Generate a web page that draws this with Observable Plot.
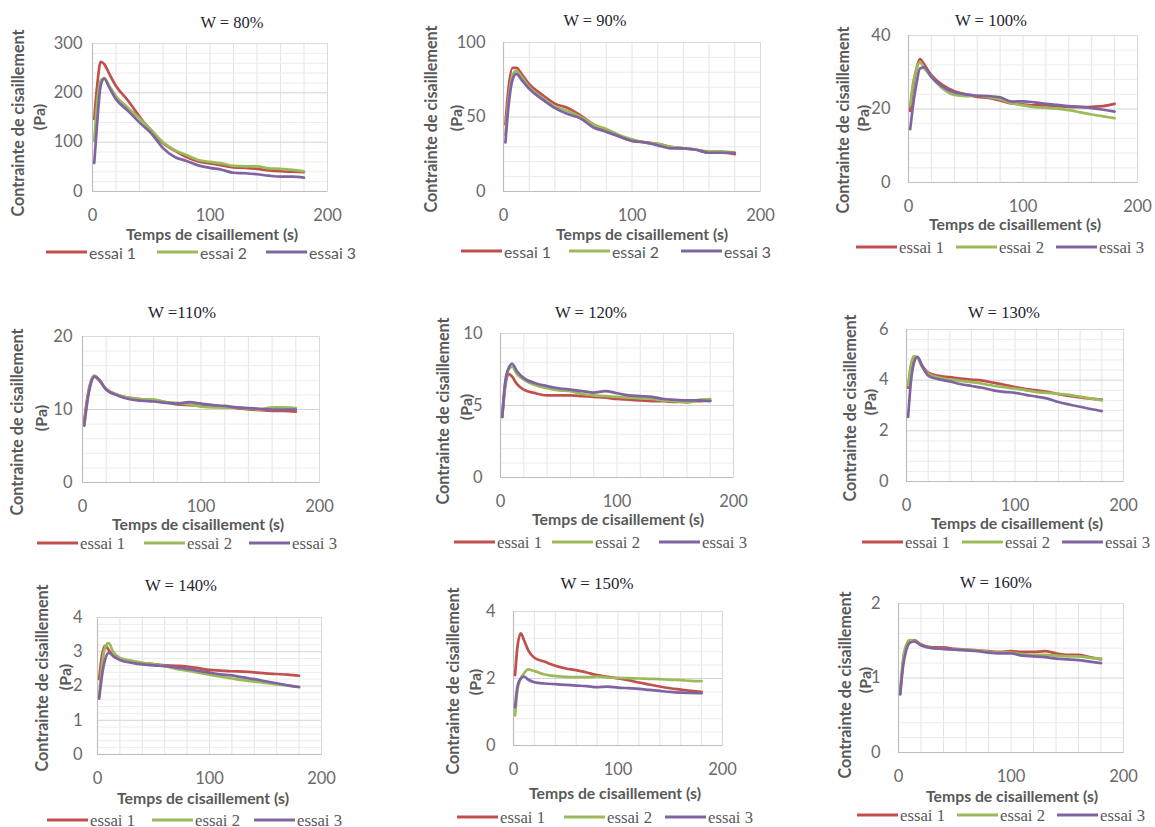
<!DOCTYPE html>
<html>
<head>
<meta charset="utf-8">
<script src="https://cdn.jsdelivr.net/npm/d3@7"></script>
<script src="https://cdn.jsdelivr.net/npm/@observablehq/plot@0.6"></script>
<style>
html, body { margin: 0; padding: 0; background: #fff; }
#wrap { position: relative; width: 1155px; height: 827px; overflow: hidden; background: #fff; }
#wrap svg { position: absolute; }
</style>
</head>
<body>
<div id="wrap"></div>
<script>
// ---------- DATA ----------
const time = [1.5, 4, 7, 10, 14, 20, 30, 40, 50, 60, 70, 80, 90, 100, 110, 120, 130, 140, 150, 160, 170, 180];
const titles = ["W = 80%", "W = 90%", "W = 100%", "W =110%", "W = 120%", "W = 130%", "W = 140%", "W = 150%", "W = 160%"];
const seriesNames = ["essai 1", "essai 2", "essai 3"];
const seriesColors = ["#C0504D", "#9BBB59", "#8064A2"];
const xTickLabels = [0, 100, 200];
const xGridStep = 20;
const yMax = [300, 100, 40, 20, 10, 6, 4, 4, 2];
const yMajorStep = [100, 50, 20, 10, 5, 2, 1, 2, 1];
const xTitle = "Temps de cisaillement (s)";
const yTitle = "Contrainte de cisaillement";
const yUnit = "(Pa)";

const w80_e1 = [147, 215, 263, 258, 240, 214, 185, 152, 122, 98, 83, 70, 61, 57, 53, 49, 48, 46, 43, 41, 40, 39];
const w80_e2 = [103, 180, 225, 230, 215, 193, 170, 148, 125, 100, 84, 74, 64, 60, 57, 52, 51, 51, 47, 46, 44, 41];
const w80_e3 = [58, 140, 215, 229, 212, 187, 164, 140, 118, 88, 70, 62, 53, 48, 44, 38, 37, 35, 32, 30, 30, 28];

const w90_e1 = [45, 70, 83, 83, 79, 72, 65, 59, 56, 51, 45, 41, 37, 34, 33, 32, 30, 29, 28, 26, 26, 25];
const w90_e2 = [38, 62, 78, 81, 77, 70, 63, 57, 54, 50, 45, 42, 38, 35, 33, 32, 30, 29, 28, 27, 27, 26];
const w90_e3 = [33, 58, 75, 79, 75, 69, 62, 56, 52, 49, 43, 40, 37, 34, 33, 31, 29, 29, 28, 26, 26, 26];

const w100_e1 = [19.5, 26, 31, 33.6, 32, 29.2, 26.5, 24.8, 24, 23.3, 23, 22.3, 21.5, 21.3, 21, 21, 20.8, 20.6, 20.5, 20.6, 20.8, 21.4];
const w100_e2 = [21, 27, 31, 32.7, 31, 28.8, 25.5, 23.8, 23.5, 23.6, 23.2, 22.7, 21.6, 21, 20.5, 20.3, 20.1, 19.7, 19.1, 18.5, 18, 17.5];
const w100_e3 = [14.5, 21, 27, 31, 31.3, 28.7, 26, 24.5, 24, 23.6, 23.5, 23.2, 22, 22.1, 21.8, 21.4, 21.1, 20.8, 20.6, 20.2, 19.8, 19.3];

const w110_e1 = [8.5, 11.5, 13.8, 14.6, 14, 12.8, 12, 11.6, 11.4, 11.3, 11.0, 10.7, 10.6, 10.5, 10.4, 10.3, 10.2, 10.0, 9.9, 9.8, 9.8, 9.7];
const w110_e2 = [8, 11.2, 13.7, 14.6, 14, 12.8, 12, 11.6, 11.4, 11.4, 11.0, 10.9, 10.7, 10.4, 10.3, 10.3, 10.3, 10.1, 10.0, 10.3, 10.3, 10.2];
const w110_e3 = [7.8, 11, 13.5, 14.5, 14.1, 12.7, 11.9, 11.4, 11.2, 11.1, 10.9, 10.8, 11.0, 10.8, 10.6, 10.5, 10.3, 10.2, 10.1, 10.0, 10.0, 10.0];

const w120_e1 = [4.2, 6.3, 7.2, 7.0, 6.5, 6.1, 5.85, 5.7, 5.7, 5.7, 5.65, 5.6, 5.55, 5.45, 5.4, 5.35, 5.3, 5.3, 5.25, 5.3, 5.3, 5.35];
const w120_e2 = [4.3, 6.5, 7.5, 7.7, 7.2, 6.8, 6.4, 6.2, 6.05, 6.0, 5.8, 5.7, 5.65, 5.6, 5.55, 5.5, 5.45, 5.35, 5.3, 5.2, 5.4, 5.45];
const w120_e3 = [4.2, 6.6, 7.6, 7.9, 7.4, 6.9, 6.55, 6.35, 6.2, 6.1, 6.0, 5.9, 6.0, 5.85, 5.7, 5.65, 5.6, 5.45, 5.4, 5.35, 5.35, 5.3];

const w130_e1 = [3.7, 4.5, 4.9, 4.9, 4.6, 4.3, 4.17, 4.12, 4.06, 4.02, 3.98, 3.9, 3.82, 3.73, 3.65, 3.6, 3.54, 3.45, 3.38, 3.32, 3.27, 3.23];
const w130_e2 = [3.8, 4.6, 4.95, 4.9, 4.55, 4.25, 4.1, 4.03, 3.97, 3.92, 3.86, 3.78, 3.72, 3.67, 3.6, 3.53, 3.5, 3.46, 3.42, 3.35, 3.28, 3.2];
const w130_e3 = [2.55, 3.9, 4.7, 4.92, 4.6, 4.18, 4.03, 3.95, 3.84, 3.77, 3.7, 3.6, 3.54, 3.5, 3.42, 3.35, 3.27, 3.14, 3.04, 2.95, 2.86, 2.78];

const w140_e1 = [2.2, 2.9, 3.18, 3.05, 2.87, 2.78, 2.72, 2.67, 2.64, 2.6, 2.59, 2.57, 2.52, 2.47, 2.45, 2.43, 2.42, 2.4, 2.37, 2.35, 2.33, 2.3];
const w140_e2 = [1.7, 2.6, 3.15, 3.25, 3.0, 2.82, 2.74, 2.68, 2.63, 2.58, 2.5, 2.45, 2.39, 2.33, 2.27, 2.22, 2.17, 2.13, 2.09, 2.05, 2.01, 1.97];
const w140_e3 = [1.63, 2.3, 2.8, 2.97, 2.88, 2.76, 2.68, 2.63, 2.6, 2.58, 2.54, 2.5, 2.44, 2.39, 2.34, 2.31, 2.25, 2.2, 2.14, 2.08, 2.02, 1.97];

const w150_e1 = [2.1, 3.0, 3.35, 3.15, 2.85, 2.62, 2.5, 2.38, 2.3, 2.25, 2.18, 2.1, 2.05, 2.0, 1.95, 1.88, 1.82, 1.76, 1.71, 1.67, 1.63, 1.6];
const w150_e2 = [0.9, 1.7, 2.0, 2.15, 2.27, 2.22, 2.12, 2.07, 2.05, 2.04, 2.04, 2.06, 2.03, 2.02, 2.01, 2.0, 1.99, 1.98, 1.96, 1.95, 1.93, 1.92];
const w150_e3 = [1.14, 1.8, 2.0, 2.06, 1.97, 1.89, 1.85, 1.83, 1.81, 1.79, 1.77, 1.74, 1.76, 1.73, 1.71, 1.69, 1.66, 1.63, 1.6, 1.58, 1.57, 1.56];

const w160_e1 = [0.79, 1.2, 1.42, 1.49, 1.51, 1.45, 1.41, 1.41, 1.39, 1.38, 1.37, 1.36, 1.35, 1.36, 1.35, 1.35, 1.36, 1.33, 1.31, 1.31, 1.28, 1.25];
const w160_e2 = [0.8, 1.25, 1.45, 1.51, 1.5, 1.44, 1.4, 1.39, 1.38, 1.38, 1.37, 1.35, 1.34, 1.34, 1.32, 1.31, 1.31, 1.3, 1.29, 1.29, 1.27, 1.26];
const w160_e3 = [0.78, 1.15, 1.38, 1.47, 1.49, 1.44, 1.4, 1.39, 1.38, 1.37, 1.36, 1.34, 1.33, 1.33, 1.3, 1.29, 1.28, 1.26, 1.25, 1.24, 1.22, 1.2];

const panelSeries = [
  [w80_e1, w80_e2, w80_e3],
  [w90_e1, w90_e2, w90_e3],
  [w100_e1, w100_e2, w100_e3],
  [w110_e1, w110_e2, w110_e3],
  [w120_e1, w120_e2, w120_e3],
  [w130_e1, w130_e2, w130_e3],
  [w140_e1, w140_e2, w140_e3],
  [w150_e1, w150_e2, w150_e3],
  [w160_e1, w160_e2, w160_e3]
];

// ---------- LAYOUT (page pixel positions) ----------
const layout = [
  {fl: 92,  fr: 327,  ft: 43,  fb: 191, gap: 10, tx: 232,  ty: 22,  tw: 63, xtx: 212,  xty: 234, ytx: 18,  yty: 123, pax: 38,  pay: 117, ly: 252, lx: [89, 200, 309],   lf: "sans"},
  {fl: 503, fr: 760,  ft: 42,  fb: 191, gap: 18, tx: 595,  ty: 20,  tw: 63, xtx: 642,  xty: 234, ytx: 431, yty: 119, pax: 455, pay: 118, ly: 251, lx: [504, 612, 724],  lf: "sans"},
  {fl: 908, fr: 1137, ft: 35,  fb: 182, gap: 18, tx: 991,  ty: 20,  tw: 72, xtx: 1015, xty: 224, ytx: 843, yty: 120, pax: 862, pay: 118, ly: 247, lx: [899, 999, 1099], lf: "serif"},
  {fl: 82,  fr: 319,  ft: 336, fb: 482, gap: 10, tx: 182,  ty: 312, tw: 68, xtx: 198,  xty: 524, ytx: 17,  yty: 422, pax: 40,  pay: 418, ly: 543, lx: [80, 187, 292],   lf: "serif"},
  {fl: 500, fr: 733,  ft: 333, fb: 477, gap: 18, tx: 591,  ty: 312, tw: 72, xtx: 618,  xty: 519, ytx: 443, yty: 411, pax: 465, pay: 407, ly: 542, lx: [497, 595, 702],  lf: "serif"},
  {fl: 906, fr: 1123, ft: 329, fb: 481, gap: 18, tx: 1004, ty: 312, tw: 72, xtx: 1017, xty: 523, ytx: 850, yty: 408, pax: 869, pay: 402, ly: 542, lx: [905, 1005, 1105], lf: "serif"},
  {fl: 97,  fr: 321,  ft: 617, fb: 754, gap: 15, tx: 181,  ty: 585, tw: 72, xtx: 203,  xty: 798, ytx: 42,  yty: 678, pax: 64,  pay: 677, ly: 820, lx: [90, 195, 297],   lf: "serif"},
  {fl: 513, fr: 722,  ft: 611, fb: 745, gap: 18, tx: 597,  ty: 583, tw: 73, xtx: 615,  xty: 793, ytx: 453, yty: 681, pax: 474, pay: 682, ly: 817, lx: [500, 607, 708],  lf: "serif"},
  {fl: 898, fr: 1123, ft: 603, fb: 752, gap: 18, tx: 996,  ty: 582, tw: 72, xtx: 1012, xty: 796, ytx: 845, yty: 685, pax: 864, pay: 680, ly: 815, lx: [900, 1000, 1100], lf: "serif"}
];

const SANS = "Lato, 'Open Sans', sans-serif";
const SERIF = "'Liberation Serif', 'DejaVu Serif', serif";
const wrap = document.getElementById("wrap");

const mL = 50, mR = 30, mT = 10, mB = 45;

panelSeries.forEach((series, i) => {
  const L = layout[i];
  const ymax = yMax[i];
  const major = yMajorStep[i];
  const majors = d3.range(0, ymax + 1e-9, major);
  const minors = d3.range(0, ymax + 1e-9, major / 5).filter(v => !majors.some(m => Math.abs(m - v) < 1e-9));
  const xGrid = d3.range(0, 200 + 1e-9, xGridStep);
  const rows = [];
  series.forEach((arr, k) => arr.forEach((v, j) => rows.push({t: time[j], v, s: seriesNames[k]})));

  const chart = Plot.plot({
    width: L.fr - L.fl + mL + mR,
    height: L.fb - L.ft + mT + mB,
    marginLeft: mL, marginRight: mR, marginTop: mT, marginBottom: mB,
    style: {fontFamily: SANS, fontSize: "16.5px", color: "#6a6a6a", background: "transparent", overflow: "visible"},
    x: {domain: [0, 200], ticks: xTickLabels, tickSize: 0, tickPadding: 18, label: null},
    y: {domain: [0, ymax], ticks: majors, tickSize: 0, tickPadding: L.gap, label: null, tickFormat: d => String(+d.toFixed(6))},
    color: {domain: seriesNames, range: seriesColors},
    marks: [
      Plot.ruleX(xGrid, {stroke: "#e4e4e4", strokeWidth: 1}),
      Plot.ruleY(minors, {stroke: "#ececec", strokeWidth: 1}),
      Plot.ruleY(majors, {stroke: "#d4d4d4", strokeWidth: 1}),
      Plot.frame({stroke: "#d9d9d9"}),
      Plot.ruleX([0], {stroke: "#bdbdbd", strokeWidth: 1.2}),
      Plot.ruleY([0], {stroke: "#bdbdbd", strokeWidth: 1.2}),
      Plot.line(rows, {x: "t", y: "v", stroke: "s", strokeWidth: 2.7, curve: "monotone-x", strokeLinejoin: "round"})
    ]
  });
  chart.style.position = "absolute";
  chart.style.left = (L.fl - mL) + "px";
  chart.style.top = (L.ft - mT) + "px";
  wrap.appendChild(chart);
});

// ---------- overlay text: titles, axis titles, legends ----------
const ov = d3.select(wrap).append("svg")
  .attr("width", 1155).attr("height", 827)
  .style("left", "0px").style("top", "0px").style("overflow", "visible");

layout.forEach((L, i) => {
  ov.append("text").text(titles[i])
    .attr("x", L.tx).attr("y", L.ty)
    .attr("text-anchor", "middle").attr("dominant-baseline", "central")
    .attr("font-family", SERIF).attr("font-size", 17).attr("fill", "#1e2430")
    .attr("textLength", L.tw).attr("lengthAdjust", "spacingAndGlyphs");
  ov.append("text").text(xTitle)
    .attr("x", L.xtx).attr("y", L.xty)
    .attr("text-anchor", "middle").attr("dominant-baseline", "central")
    .attr("font-family", SANS).attr("font-weight", "bold").attr("font-size", 15.5).attr("fill", "#595959")
    .attr("textLength", 172).attr("lengthAdjust", "spacingAndGlyphs");
  ov.append("text").text(yTitle)
    .attr("transform", `translate(${L.ytx},${L.yty}) rotate(-90)`)
    .attr("text-anchor", "middle").attr("dominant-baseline", "central")
    .attr("font-family", SANS).attr("font-weight", "bold").attr("font-size", 16.5).attr("fill", "#595959")
    .attr("textLength", 187).attr("lengthAdjust", "spacingAndGlyphs");
  ov.append("text").text(yUnit)
    .attr("transform", `translate(${L.pax},${L.pay}) rotate(-90)`)
    .attr("text-anchor", "middle").attr("dominant-baseline", "central")
    .attr("font-family", SANS).attr("font-weight", "bold").attr("font-size", 16).attr("fill", "#595959");
  seriesNames.forEach((name, k) => {
    const x0 = L.lx[k];
    ov.append("line")
      .attr("x1", x0 - 43).attr("x2", x0 - 2).attr("y1", L.ly).attr("y2", L.ly)
      .attr("stroke", seriesColors[k]).attr("stroke-width", 2.8);
    ov.append("text").text(name)
      .attr("x", x0).attr("y", L.ly)
      .attr("dominant-baseline", "central")
      .attr("font-family", L.lf === "sans" ? SANS : SERIF).attr("font-size", 16).attr("fill", "#595959")
      .attr("textLength", L.lf === "sans" ? 47 : 45).attr("lengthAdjust", "spacingAndGlyphs");
  });
});
</script>
</body>
</html>
